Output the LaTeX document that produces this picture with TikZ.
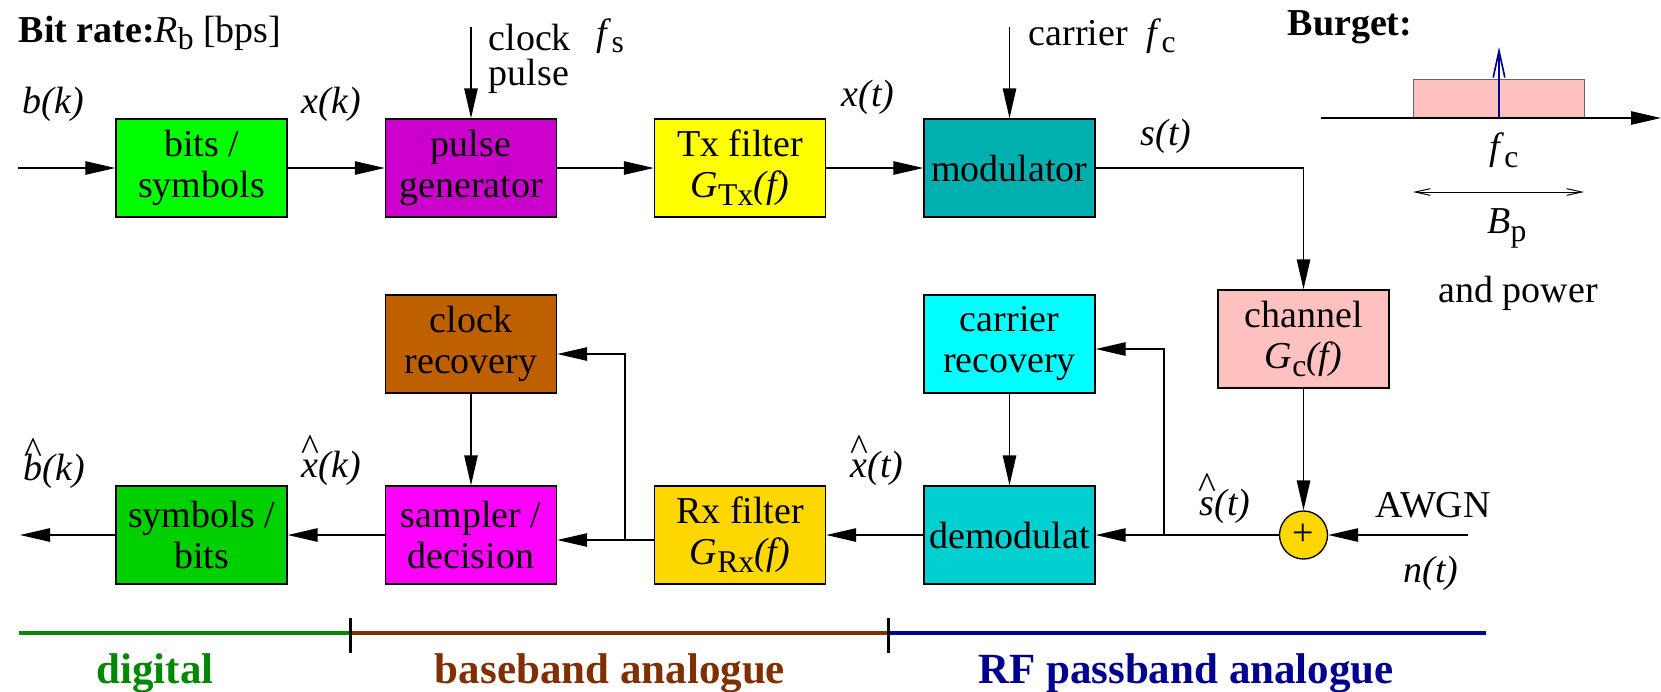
\documentclass[tikz,border=0pt]{standalone}
\usepackage{fontspec}
\setmainfont{Liberation Serif}
\usetikzlibrary{arrows.meta,calc}
\definecolor{bitgreen}{RGB}{0,255,0}
\definecolor{pulsemag}{RGB}{204,0,204}
\definecolor{txyellow}{RGB}{255,255,0}
\definecolor{modteal}{RGB}{0,176,176}
\definecolor{chanpink}{RGB}{255,192,192}
\definecolor{carcyan}{RGB}{0,255,255}
\definecolor{demteal}{RGB}{0,208,208}
\definecolor{rxgold}{RGB}{255,215,0}
\definecolor{sampmag}{RGB}{255,0,255}
\definecolor{clkbrown}{RGB}{191,96,0}
\definecolor{symgreen}{RGB}{0,208,0}
\definecolor{diggreen}{RGB}{0,136,0}
\definecolor{bbbrown}{RGB}{128,48,0}
\definecolor{rfnavy}{RGB}{0,0,144}
\newcommand{\lowsub}[1]{\raisebox{-0.45ex}{\fontsize{9.5}{10}\selectfont #1}}
\newcommand{\caretover}[1]{\ooalign{\textit{#1}\cr\hidewidth\raisebox{5pt}{\textasciicircum}\hidewidth\cr}}

\begin{document}
\begin{tikzpicture}[x=0.3pt,y=-0.3pt,
  box/.style={draw,align=center,inner sep=0pt,minimum width=51.3pt,minimum height=29.4pt,font=\fontsize{11.4}{12.3}\selectfont},
  arr/.style={-{Triangle[length=9pt,width=4pt]},line width=0.5pt},
  lab/.style={anchor=base west,inner sep=0pt,font=\fontsize{11.4}{12}\selectfont},
  zone/.style={anchor=base,inner sep=0pt,font=\fontsize{12.9}{14}\selectfont\bfseries},
  band/.style={line width=1.3pt}]
\useasboundingbox (0,0) rectangle (1661,691);
\node[box,fill=bitgreen] (bs) at (201.5,168) {bits /\\ symbols};
\node[box,fill=pulsemag] (pulse) at (471,168) {pulse\\ generator};
\node[box,fill=txyellow] (tx) at (740,168) {Tx filter\\ \textit{G}\lowsub{Tx}\textit{(f)}};
\node[box,fill=modteal] (mod) at (1009.5,168) {modulator};
\node[box,fill=chanpink] (chan) at (1303.5,339) {channel\\ \textit{G}\lowsub{c}\textit{(f)}};
\node[box,fill=carcyan] (carrec) at (1009.5,344) {carrier\\ recovery};
\node[box,fill=clkbrown] (clkrec) at (471,344) {clock\\ recovery};
\node[box,fill=demteal] (dem) at (1009.5,535) {demodulat};
\node[box,fill=rxgold] (rx) at (740,535) {Rx filter\\ \textit{G}\lowsub{Rx}\textit{(f)}};
\node[box,fill=sampmag] (samp) at (471,535) {sampler /\\ decision};
\node[box,fill=symgreen] (sb) at (201.5,535) {symbols /\\ bits};
\node[draw,circle,fill=rxgold,inner sep=0pt,minimum size=14.4pt,font=\fontsize{11.4}{12}\selectfont] (add) at (1303.5,535) {+};
\coordinate (bin) at (18,168); \coordinate (bout) at (20,535);
\coordinate (clkin) at (471,27); \coordinate (carin) at (1009.5,27);
\coordinate (nin) at (1468,535);
\coordinate (tap1) at (625,540); \coordinate (tap2) at (1164,535);
\draw[arr] (bin)--(bs.west); \draw[arr] (bs.east)--(pulse.west); \draw[arr] (pulse.east)--(tx.west); \draw[arr] (tx.east)--(mod.west);
\draw[arr] (clkin)--(pulse.north); \draw[arr] (carin)--(mod.north);
\draw[arr] (mod.east) -| (chan.north); \draw[arr] (chan.south)--(add.north); \draw[arr] (nin)--(add.east);
\draw[arr] (add.west)--(dem.east); \draw[arr] (tap2) |- ($(carrec.east)+(0,5)$); \draw[arr] (carrec.south)--(dem.north);
\draw[arr] (dem.west)--(rx.east); \draw[arr] ($(rx.west)+(0,5)$)--($(samp.east)+(0,5)$); \draw[arr] (tap1) |- ($(clkrec.east)+(0,10)$);
\draw[arr] (clkrec.south)--(samp.north); \draw[arr] (samp.west)--(sb.east); \draw[arr] (sb.west)--(bout);
\node[lab] (rate) at (18,42) {\textbf{Bit rate:}\textit{R}\lowsub{b} [bps]};
\node[lab] (bk) at (22,113) {\textit{b(k)}};
\node[lab] (xk) at (301,113) {\textit{x(k)}};
\node[lab,anchor=north west,align=left,font=\fontsize{11.4}{10.5}\selectfont] (clk) at (488,23) {clock\\ pulse};
\node[lab] (fs) at (596,45) {\textit{f}\lowsub{s}};
\node[lab] (car) at (1028,45) {carrier\ \ \textit{f}\lowsub{c}};
\node[lab] (xt) at (841,106) {\textit{x(t)}};
\node[lab] (st) at (1140,145) {\textit{s(t)}};
\node[lab] (bhat) at (23,480) {\caretover{b}\textit{(k)}};
\node[lab] (xhk) at (301,477) {\caretover{x}\textit{(k)}};
\node[lab] (xht) at (850,477) {\caretover{x}\textit{(t)}};
\node[lab] (sht) at (1199,515) {\caretover{s}\textit{(t)}};
\node[lab] (awgn) at (1375,517) {AWGN};
\node[lab] (nt) at (1403,582) {\textit{n(t)}};
\node[lab] (burget) at (1287,35) {\textbf{Burget:}};
\coordinate (ax0) at (1321,118); \coordinate (ax1) at (1661,118);
\node[draw=black!60,fill=chanpink,inner sep=0pt,minimum width=51.3pt,minimum height=11.4pt,anchor=south] (spec) at (1499,118) {};
\draw[arr] (ax0)--(ax1);
\coordinate (ctop) at (1499,47);
\draw[rfnavy,line width=0.5pt,-{Straight Barb[length=8pt,width=3.5pt]}] (spec.south)--(ctop);
\coordinate (bl) at (1413,192); \coordinate (br) at (1584,192);
\draw[line width=0.3pt,{Straight Barb[length=4.5pt,width=2pt]}-{Straight Barb[length=4.5pt,width=2pt]}] (bl)--(br);
\node[font=\fontsize{11.4}{12}\selectfont] (fcl) at (1504,150) {\textit{f}\lowsub{c}};
\node[font=\fontsize{11.4}{12}\selectfont] (bpl) at (1507,228) {\textit{B}\lowsub{p}};
\node[font=\fontsize{11.4}{12}\selectfont] (pow) at (1518,293) {and power};
\draw[band,diggreen] (19,633)--(350,633); \draw[band,bbbrown] (350,633)--(888,633); \draw[band,rfnavy] (888,633)--(1486,633);
\draw[line width=0.9pt] (350,618)--(350,653); \draw[line width=0.9pt] (888,618)--(888,653);
\node[zone,text=diggreen] (dig) at (155,683) {digital};
\node[zone,text=bbbrown] (bb) at (610,683) {baseband analogue};
\node[zone,text=rfnavy] (rf) at (1186,683) {RF passband analogue};
\end{tikzpicture}
\end{document}
